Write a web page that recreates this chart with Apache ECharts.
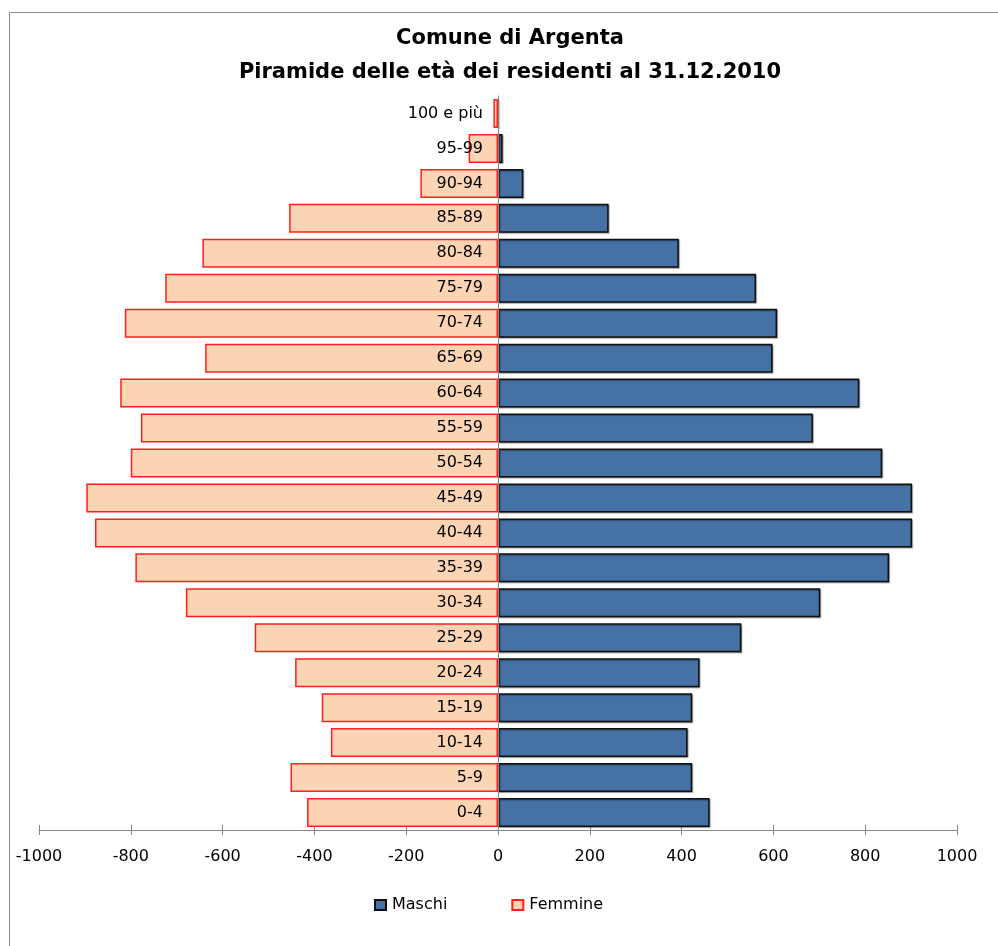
<!DOCTYPE html>
<html>
<head>
<meta charset="utf-8">
<script src="https://cdn.jsdelivr.net/npm/echarts@6/dist/echarts.min.js"></script>
<style>
  html, body { margin: 0; padding: 0; background: #fff; }
  #chart { width: 998px; height: 946px; }
</style>
</head>
<body>
<div id="chart"></div>
<script>
// Age classes, bottom to top
const ageClasses = ['0-4', '5-9', '10-14', '15-19', '20-24', '25-29', '30-34', '35-39',
  '40-44', '45-49', '50-54', '55-59', '60-64', '65-69', '70-74', '75-79', '80-84',
  '85-89', '90-94', '95-99', '100 e più'];

// Residents per age class
const maschi = [461, 423, 413, 423, 439, 530, 702, 852, 902, 902, 837, 686, 787,
  598, 608, 562, 394, 241, 55, 10, 0];
const femmine = [416, 452, 364, 384, 442, 530, 680, 790, 878, 897, 800, 778, 823,
  638, 813, 725, 644, 455, 169, 64, 10];

// Horizontal scale ticks
const xTicks = [-1000, -800, -600, -400, -200, 0, 200, 400, 600, 800, 1000];

const FONT = 'DejaVu Sans';
const GRID_LEFT = 39, GRID_RIGHT = 41, WIDTH = 998;
// the category axis sits on the zero line, halfway across the plot
const zeroOffset = (WIDTH - GRID_LEFT - GRID_RIGHT) / 2;

const chart = echarts.init(document.getElementById('chart'));

chart.setOption({
  animation: false,
  backgroundColor: '#ffffff',
  title: {
    text: 'Comune di Argenta\nPiramide delle età dei residenti al 31.12.2010',
    left: 510,
    top: 22,
    padding: 0,
    textAlign: 'center',
    textStyle: {
      fontFamily: FONT,
      fontWeight: 'bold',
      fontSize: 21,
      lineHeight: 34,
      color: '#000',
      align: 'center'
    }
  },
  graphic: [{
    type: 'rect',
    silent: true,
    shape: { x: 9.5, y: 12.5, width: 1200, height: 1200 },
    style: { fill: 'none', stroke: '#8e8e8e', lineWidth: 1 }
  }],
  legend: {
    data: ['Maschi', 'Femmine'],
    left: 374,
    top: 897,
    padding: 0,
    itemWidth: 11,
    itemHeight: 10,
    itemGap: 64,
    icon: 'rect',
    textStyle: { fontFamily: FONT, fontSize: 16, color: '#000', padding: [0, 0, 0, 1] }
  },
  grid: {
    left: GRID_LEFT, right: GRID_RIGHT, top: 96, bottom: 116,
    containLabel: false, outerBoundsMode: 'none'
  },
  xAxis: [{
    type: 'value',
    min: xTicks[0],
    max: xTicks[xTicks.length - 1],
    interval: 200,
    position: 'bottom',
    axisLine: { show: true, onZero: false, lineStyle: { color: '#868686', width: 1 } },
    axisTick: { show: true, inside: false, length: 5, lineStyle: { color: '#868686' } },
    axisLabel: {
      margin: 19, fontFamily: FONT, fontSize: 16, color: '#000',
      formatter: v => String(v)
    },
    splitLine: { show: false }
  }, {
    type: 'value',
    min: xTicks[0],
    max: xTicks[xTicks.length - 1],
    interval: 200,
    position: 'bottom',
    axisLine: { show: false },
    axisTick: { show: true, inside: true, length: 5, lineStyle: { color: '#868686' } },
    axisLabel: { show: false },
    splitLine: { show: false }
  }],
  yAxis: {
    type: 'category',
    data: ageClasses,
    position: 'left',
    offset: -zeroOffset,
    z: 10,
    axisLine: { show: true, onZero: false, lineStyle: { color: '#868686', width: 1 } },
    axisTick: { show: false },
    axisLabel: { margin: 15, fontFamily: FONT, fontSize: 16, color: '#000' },
    splitLine: { show: false }
  },
  series: [{
    name: 'Maschi',
    type: 'bar',
    xAxisIndex: 0,
    data: maschi,
    barWidth: 29,
    barGap: '-100%',
    itemStyle: {
      color: '#4571a5',
      borderColor: '#111',
      borderWidth: 1.5,
      shadowColor: 'rgba(0,0,0,0.35)',
      shadowBlur: 1,
      shadowOffsetX: 1,
      shadowOffsetY: 1
    }
  }, {
    name: 'Femmine',
    type: 'bar',
    xAxisIndex: 0,
    data: femmine.map(v => -v),
    barWidth: 29,
    barGap: '-100%',
    itemStyle: {
      color: '#fbd4b4',
      borderColor: '#ff1f1f',
      borderWidth: 1.5
    }
  }]
});
</script>
</body>
</html>
